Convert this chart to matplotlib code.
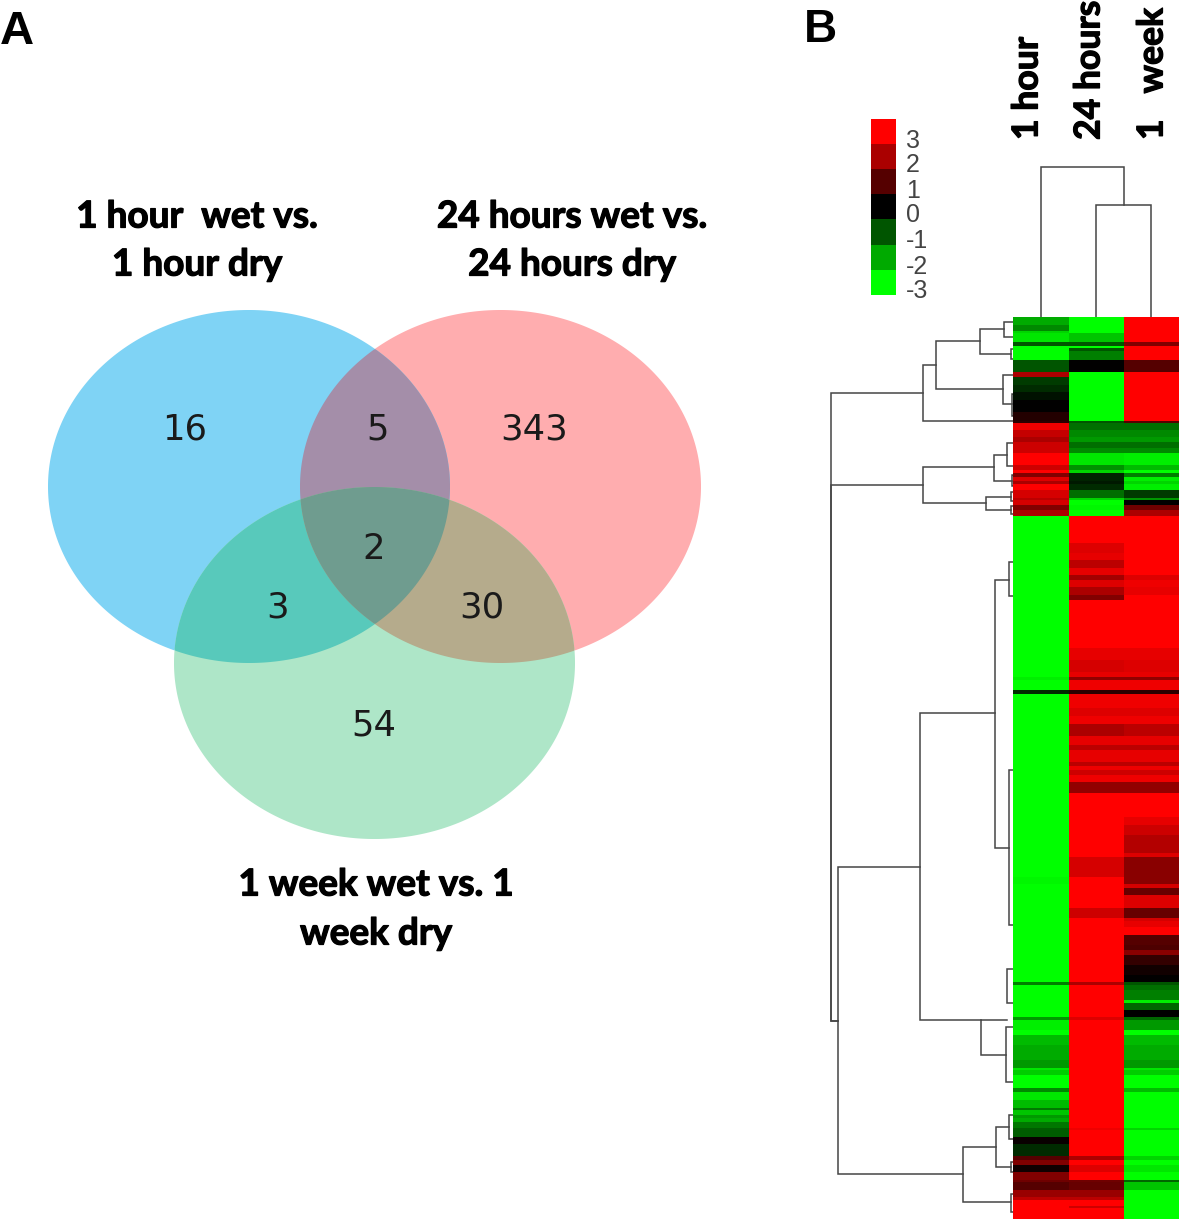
import numpy as np
import matplotlib
matplotlib.use("Agg")
import matplotlib.pyplot as plt
import matplotlib.patheffects as pe
from matplotlib.colors import LinearSegmentedColormap, ListedColormap
from matplotlib.patches import Polygon

# ---------- Venn data ----------
venn_labels = ["16", "5", "343", "2", "3", "30", "54"]
venn_x = [185, 378, 534, 374, 278, 482, 374]
venn_y = [430, 430, 430, 549, 607, 607, 726]
set_cx = [249, 500.5, 374.5]
set_cy = [486.5, 486.5, 663]
set_rx = [201, 200.5, 200.5]
set_ry = [176.5, 176.5, 176]
single_colors = ["#7fd3f5", "#ffadaf", "#aee6c8"]
pair_sets = [(0, 1), (0, 2), (1, 2)]
pair_colors = ["#a48ea9", "#58c9bb", "#b5ab8c"]
triple_color = "#6f9c8f"

# ---------- Heat map data: bands of rows, z-scores per condition ----------
conditions = ["1 hour", "24 hours", "1   week"]
band_edges = [317, 325, 331, 333, 342, 346, 348, 351, 360, 372, 377, 385, 392, 400, 412, 421, 423,
              430, 437, 442, 448, 453, 465, 470, 473, 477, 481, 484, 490, 498, 500, 505, 510, 516,
              543, 553, 560, 568, 575, 580, 587, 595, 600, 648, 660, 672, 677, 680, 690, 694, 708,
              716, 724, 736, 745, 750, 762, 766, 770, 775, 782, 793, 817, 825, 835, 853, 857, 877,
              884, 888, 895, 900, 908, 918, 921, 927, 935, 945, 950, 955, 965, 975, 982, 985, 990,
              1000, 1003, 1010, 1017, 1020, 1030, 1035, 1045, 1060, 1068, 1070, 1075, 1088, 1092,
              1100, 1108, 1110, 1115, 1118, 1122, 1128, 1130, 1137, 1144, 1156, 1160, 1165, 1172,
              1180, 1182, 1190, 1197, 1200, 1206, 1208, 1219]
hour1 = [-2, -1.6, -2.5, -2.7, -1, -3, -3, -3, -1, 2, -0.7, -0.5, -0.2, 0, 0.4, 0.5,
         2.8, 2.3, 2, 2.4, 2.4, 3, 2.4, 3, 1.5, 2.6, 2, 3, 2.5, 2.2, 2.5, 1.5, 2,
         -3, -3, -3, -3, -3, -3, -3, -3, -3, -3, -3, -3, -3, -2.8, -3, -0.5, -3,
         -3, -3, -3, -3, -3, -3, -3, -3, -3, -3, -3, -3, -3, -3, -3, -3, -3,
         -2.9, -3, -3, -3, -3, -3, -3, -3, -3, -3, -3, -3, -3, -3, -3, -1.5, -3, -3,
         -3, -3, -3, -1.8, -2.8, -3, -2.2, -2, -1.8, -2.7, -2.4, -3, -1.6,
         -2.7, -2.2, -1.4, -2.3, -1.8, -2, -1.4, -1.1, -1.1, 0.1, -0.5, 1, 1.5, 0.2,
         1.5, 1.3, 1, 1.8, 2.2, 3, 3, 3]
hours24 = [-3, -3, -3, -2.3, -1, -3, -1, -1.5, 0, -3, -3, -3, -3, -3, -3, -1,
           -1.3, -1.6, -1.8, -1.3, -1.6, -2.7, -1.7, -2.5, -0.4, -0.4, -0.3, -0.5, -1.3, -2.5, -3, -2.9, -3,
           3, 2.6, 2.7, 2.2, 2.7, 1.9, 2.6, 2, 1.5, 3, 2.7, 2.5, 2.7, 1.7, 2.8, 0.5, 2.8,
           2.6, 2.8, 2, 2.7, 2.2, 2.7, 2.2, 2.8, 2.4, 2.8, 1.7, 3, 3, 3, 3, 3, 2.5,
           3, 3, 3, 3, 3, 2.4, 3, 3, 3, 3, 3, 3, 3, 3, 3, 2, 3, 3,
           3, 3, 3, 2.6, 3, 3, 3, 3, 3, 3, 3, 3, 3,
           3, 3, 3, 3, 3, 3, 3, 2.8, 3, 3, 3, 2, 3, 2.6,
           3, 1.3, 1.2, 1.8, 2.2, 3, 2.4, 3]
week1 = [3, 3, 3, 3, 1.5, 3, 3, 3, 1, 3, 3, 3, 3, 3, 3, 1,
         -1.3, -1.6, -1.8, -1.3, -1.6, -2.8, -2.2, -3, -1.5, -2.8, -2.5, -2.8, -0.7, -1.8, 0, 1.3, 2,
         3, 3, 3, 3, 3, 2.6, 2.8, 2.7, 3, 3, 2.7, 2.6, 2.7, 1.7, 2.8, 0.5, 2.8,
         2.6, 2.8, 2.2, 2.7, 2.2, 2.7, 2.2, 2.8, 2.4, 2.8, 1.7, 3, 2.7, 2.4, 2.1, 2.6, 1.6,
         1.6, 2.5, 1.2, 2.6, 2.6, 1.2, 2.5, 2.7, 3, 1, 0.9, 1.6, 0.6, 0.2, 0, -1, -1.3, -1.5,
         -2.8, -1.2, 0, -1.2, -1.8, -3, -2.2, -2, -1.8, -2.7, -2.4, -3, -2.2,
         -3, -3, -3, -3, -3, -3, -3, -2.5, -3, -3, -3, -2.5, -3, -2.7,
         -3, -1.2, -2.3, -3, -3, -3, -3, -3]
column_edges = [1013, 1069, 1124, 1179]

# ---------- Colour key ----------
key_values = [3, 2, 1, 0, -1, -2, -3]
key_colors = ["#ff0000", "#aa0000", "#550000", "#000000", "#005500", "#00aa00", "#00ff00"]
key_edges = [119, 144, 169, 194, 219, 245, 270, 295]
key_label_y = [139, 164, 189, 214, 240, 265, 290]

# ---------- Dendrograms: each node is a bracket with its two child tips ----------
row_node_x   = [831, 831, 923, 936, 980, 1004, 1011, 1003, 1012, 923, 994, 1007, 1012, 986, 1011, 1011,
                838, 920, 995, 1009, 1009, 981, 1007, 1006, 963, 996, 1009, 1011, 1011]
row_node_top = [393, 485, 365, 341, 329, 322, 349, 375, 394, 467, 455, 443, 475, 497, 492, 506,
                867, 713, 580, 562, 770, 1020, 969, 1027, 1147, 1127, 1115, 1162, 1194]
row_node_bot = [1021, 1021, 421, 389, 354, 337, 359, 404, 416, 503, 481, 466, 486, 510, 501, 514,
                1174, 1020, 848, 596, 925, 1055, 1003, 1082, 1202, 1167, 1139, 1172, 1212]
row_tip_top  = [923, 923, 936, 980, 1004, 1013, 1013, 1013, 1013, 994, 1007, 1013, 1013, 1011, 1013, 1013,
                920, 995, 1009, 1013, 1013, 1007, 1013, 1013, 996, 1009, 1013, 1013, 1013]
row_tip_bot  = [838, 838, 1013, 1003, 1011, 1013, 1013, 1012, 1013, 986, 1012, 1013, 1013, 1011, 1013, 1013,
                963, 981, 1009, 1013, 1013, 1006, 1013, 1013, 1011, 1011, 1013, 1013, 1013]
col_node_y   = [167, 205]
col_node_lft = [1041, 1096]
col_node_rgt = [1124, 1151]
col_tip_lft  = [317, 317]
col_tip_rgt  = [205, 317]

FS_TITLE = 26.6
plt.rcParams["font.family"] = ["Lato", "DejaVu Sans"]
fig = plt.figure(figsize=(11.8, 12.19), dpi=100)
ax = fig.add_axes([0, 0, 1, 1])
ax.set_xlim(0, 1180)
ax.set_ylim(1219, 0)
ax.axis("off")
heavy = [pe.withStroke(linewidth=0.9, foreground="black")]


def ellipse_pts(i, n=720):
    t = np.linspace(0, 2 * np.pi, n, endpoint=False)
    return np.c_[set_cx[i] + set_rx[i] * np.cos(t), set_cy[i] + set_ry[i] * np.sin(t)]


def inside(p, i):
    return ((p[:, 0] - set_cx[i]) / set_rx[i]) ** 2 + ((p[:, 1] - set_cy[i]) / set_ry[i]) ** 2 <= 1


def overlap(ids):
    pts = []
    for i in ids:
        p = ellipse_pts(i)
        keep = np.ones(len(p), bool)
        for j in ids:
            if j != i:
                keep &= inside(p, j)
        pts.append(p[keep])
    pts = np.vstack(pts)
    c = pts.mean(axis=0)
    return pts[np.argsort(np.arctan2(pts[:, 1] - c[1], pts[:, 0] - c[0]))]


for i in [1, 0, 2]:
    ax.add_patch(Polygon(ellipse_pts(i), closed=True, fc=single_colors[i], ec="none"))
for ids, col in zip(pair_sets, pair_colors):
    ax.add_patch(Polygon(overlap(ids), closed=True, fc=col, ec="none"))
ax.add_patch(Polygon(overlap((0, 1, 2)), closed=True, fc=triple_color, ec="none"))

for s, x, y in zip(venn_labels, venn_x, venn_y):
    ax.text(x, y, s, fontsize=25.5, family="DejaVu Sans", color="#1a1a1a", ha="center", va="center")

for s, x, y in [("1 hour  wet vs.", 197, 217), ("1 hour dry", 197, 265),
                ("24 hours wet vs.", 572, 217), ("24 hours dry", 572, 265),
                ("1 week wet vs. 1", 376, 885), ("week dry", 376, 934)]:
    ax.text(x, y, s, fontsize=FS_TITLE, fontweight="bold", color="black", ha="center", va="center",
            path_effects=heavy)

ax.text(0, 44, "A", fontsize=34, fontweight="bold", family="Liberation Sans", ha="left", va="baseline")
ax.text(804, 42, "B", fontsize=33, fontweight="bold", family="Liberation Sans", ha="left", va="baseline")

# Heat map
cmap = LinearSegmentedColormap.from_list("gbr", ["#00ff00", "#000000", "#ff0000"])
Z = np.array([hour1, hours24, week1]).T
ax.pcolormesh(column_edges, band_edges, Z, cmap=cmap, vmin=-3, vmax=3, antialiased=False, zorder=2)

# Colour key
ax.pcolormesh([871, 896], key_edges, np.arange(len(key_values)).reshape(-1, 1),
              cmap=ListedColormap(key_colors), zorder=2)
for v, y in zip(key_values, key_label_y):
    ax.text(906, y + 1.5, str(v), fontsize=18, family="Liberation Sans", color="#444444",
            ha="left", va="center")

# Dendrograms
lk = dict(color="#454545", lw=1.1, solid_joinstyle="miter", zorder=1)
for x, t, b, tt, tb in zip(row_node_x, row_node_top, row_node_bot, row_tip_top, row_tip_bot):
    ax.plot([tt, x, x, tb], [t, t, b, b], **lk)
for y, l, r, tl, tr in zip(col_node_y, col_node_lft, col_node_rgt, col_tip_lft, col_tip_rgt):
    ax.plot([l, l, r, r], [tl, y, y, tr], **lk)

# Column labels
for s, x in zip(conditions, [1027, 1089, 1152]):
    ax.text(x, 140, s, rotation=90, fontsize=25.6, fontweight="bold", color="black", ha="center", va="bottom",
            path_effects=heavy)

fig.savefig("out.png", dpi=100)
